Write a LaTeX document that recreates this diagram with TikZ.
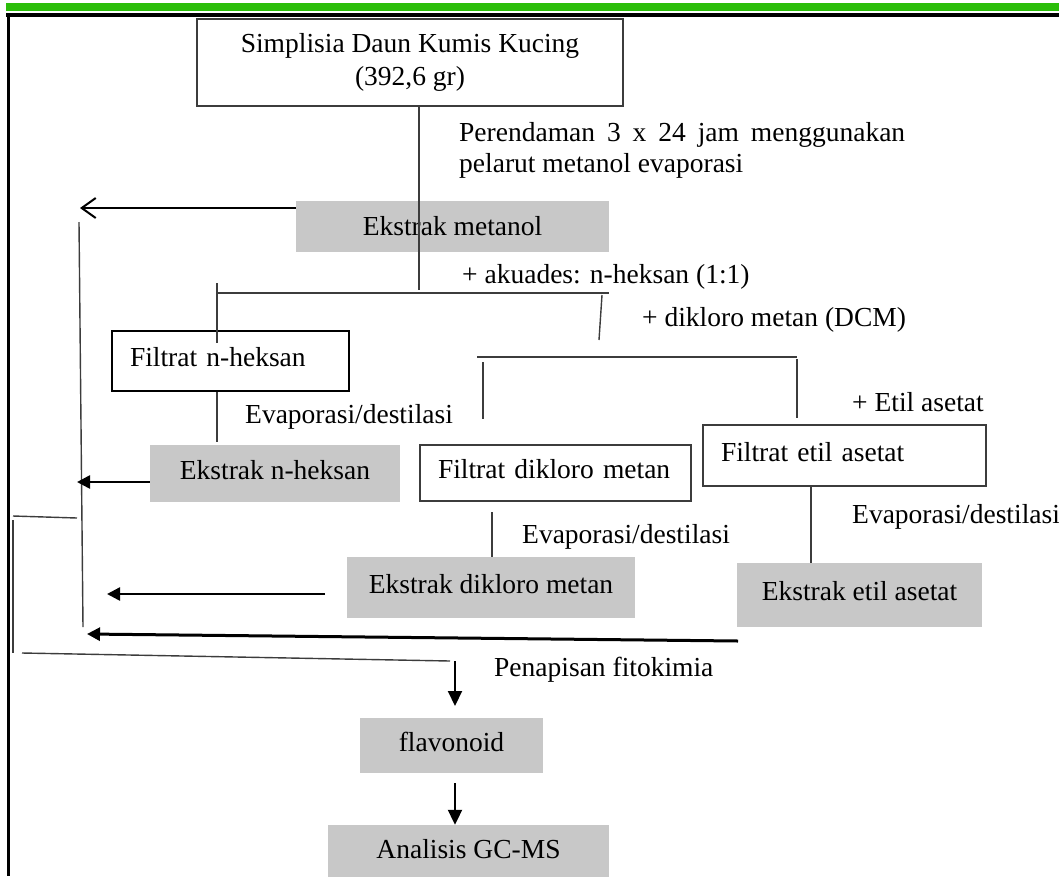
\documentclass[tikz,border=0pt]{standalone}
\usepackage{fontspec}
\setmainfont{Liberation Serif}
\usetikzlibrary{arrows.meta}
\definecolor{grn}{RGB}{44,190,10}
\definecolor{ln}{RGB}{60,60,60}
\definecolor{gfill}{RGB}{200,200,200}
\tikzset{
  txt/.style={font=\fontsize{27.5}{32}\selectfont, inner sep=0pt},
  graybox/.style={txt, fill=gfill, draw=none, text height=19pt, text depth=8pt},
  wbox/.style={txt, draw=ln, line width=2pt, fill=white, text height=19pt, text depth=8pt},
  thinln/.style={draw=ln, line width=1.4pt},
  arr/.style={line width=2.5pt, -{Triangle[length=13pt,width=13pt]}},
  varr/.style={line width=2pt, -{Triangle[length=15pt,width=14pt]}},
}
\begin{document}
\begin{tikzpicture}[x=1pt,y=-1pt]
\useasboundingbox (0,0) rectangle (1059,876);
\clip (0,0) rectangle (1059,876);
% frame
\fill[grn] (6,3) rectangle (1059,11);
\draw[line width=3.5pt] (6,15) -- (1059,15);
\draw[line width=3pt] (8.5,13.5) -- (8.5,876);

% boxes
\node[txt, font=\fontsize{27.5}{33}\selectfont, draw=ln, line width=1.5pt, fill=white, minimum width=426, minimum height=87, align=center] (simp) at (410,62.5) {Simplisia Daun Kumis Kucing\\(392,6 gr)};
\node[graybox, minimum width=313, minimum height=51, text height=, text depth=] (em) at (452.5,226.5) {Ekstrak metanol};
\node[wbox, draw=black, line width=2.5pt, inner xsep=18pt, text width=201pt, align=left, minimum height=60] (fnh) at (230.5,361) {Filtrat n-heksan};
\node[graybox, minimum width=250, minimum height=57] (enh) at (275,473.5) {Ekstrak n-heksan};
\node[wbox, inner xsep=18pt, text width=235pt, align=left, minimum height=56] (fdm) at (555.5,473) {Filtrat dikloro metan};
\node[wbox, inner xsep=18pt, text width=247pt, align=left, minimum height=61] (fea) at (844.5,455.5) {Filtrat etil asetat};
\node[graybox, minimum width=288, minimum height=61] (edm) at (491,587.5) {Ekstrak dikloro metan};
\node[graybox, minimum width=245, minimum height=64] (eea) at (859.5,595) {Ekstrak etil asetat};
\node[graybox, minimum width=183, minimum height=55] (flav) at (451.5,745.5) {flavonoid};
\node[graybox, minimum width=281, minimum height=55] (gcms) at (468.5,852.5) {Analisis GC-MS};

% labels
\node[txt, anchor=north west, align=left, font=\fontsize{27.5}{31}\selectfont] (lper) at (459,122) {\makebox[446pt][s]{Perendaman 3 x 24 jam menggunakan}\\pelarut metanol evaporasi};
\node[txt, anchor=west] (lak) at (462,277) {+ akuades: n-heksan (1:1)};
\node[txt, anchor=west] (ldcm) at (642,320) {+ dikloro metan (DCM)};
\node[txt, anchor=west] (lev1) at (245,417) {Evaporasi/destilasi};
\node[txt, anchor=west] (let) at (852,402) {+ Etil asetat};
\node[txt, anchor=west] (lev2) at (522,537) {Evaporasi/destilasi};
\node[txt, anchor=west] (lev3) at (852,517) {Evaporasi/destilasi};
\node[txt, anchor=west] (lpen) at (494,670) {Penapisan fitokimia};

% coordinates
\coordinate (j1) at (419,290);
\coordinate (h1l) at (217,293);
\coordinate (h1r) at (609,293);
\coordinate (v1t) at (217,283);
\coordinate (v1b) at (217,343);
\coordinate (s1a) at (602,295);
\coordinate (s1b) at (599,340);
\coordinate (h2l) at (477,357);
\coordinate (h2r) at (797,357);
\coordinate (v2t) at (797,359);
\coordinate (v2b) at (797,418);
\coordinate (v3t) at (483,362);
\coordinate (v3b) at (483,419);
\coordinate (v4t) at (492,512);
\coordinate (v5) at (811,486);
\coordinate (mt) at (80,208);
\coordinate (a2) at (77,482);
\coordinate (a3s) at (325,594);
\coordinate (a3) at (107,594);
\coordinate (a4s) at (738,641);
\coordinate (a4) at (87,634);
\coordinate (lvt) at (79,222);
\coordinate (lvb) at (83,627);
\coordinate (b1a) at (13,516);
\coordinate (b1b) at (77,518);
\coordinate (b2a) at (13,520);
\coordinate (b2b) at (13,653);
\coordinate (b3a) at (22,653);
\coordinate (b3b) at (450,661);
\coordinate (pa) at (455,661);
\coordinate (pb) at (455,706);
\coordinate (qa) at (455,783);

% thin connectors
\draw[thinln] (simp.south -| j1) -- (j1);
\draw[thinln] (h1l) -- (h1r);
\draw[thinln] (v1t) -- (v1b);
\draw[thinln] (s1a) -- (s1b);
\draw[thinln] (h2l) -- (h2r);
\draw[thinln] (v2t) -- (v2b);
\draw[thinln] (v3t) -- (v3b);
\draw[thinln] (fnh.south -| v1t) -- ([yshift=3pt]enh.north -| v1t);
\draw[thinln] (v4t) -- (edm.north -| v4t);
\draw[thinln] (fea.south -| v5) -- (eea.north -| v5);
\draw[thinln] (lvt) -- (lvb);
\draw[thinln] (b1a) -- (b1b);
\draw[thinln] (b2a) -- (b2b);
\draw[thinln] (b3a) -- (b3b);

% arrows
\draw[line width=2pt, -{Straight Barb[length=14pt,width=20pt]}] (em.west |- mt) -- (mt);
\draw[arr] (enh.west |- a2) -- (a2);
\draw[arr] (a3s) -- (a3);
\draw[line width=3pt, -{Triangle[length=13pt,width=13pt]}] (a4s) -- (a4);
\draw[varr] (pa) -- (pb);
\draw[varr] (qa) -- (gcms.north -| qa);
\end{tikzpicture}
\end{document}
